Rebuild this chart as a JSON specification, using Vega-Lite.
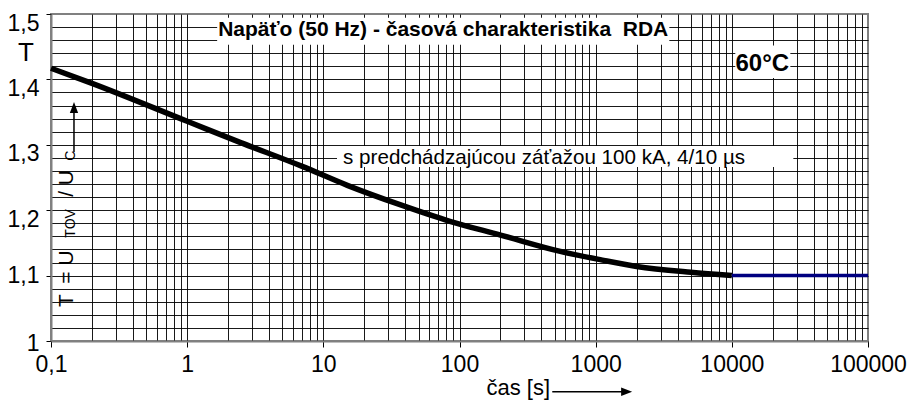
{
  "$schema": "https://vega.github.io/schema/vega-lite/v6.json",
  "width": 817,
  "height": 327,
  "autosize": "none",
  "padding": {"left": 51, "top": 14, "right": 46, "bottom": 60},
  "background": "white",
  "config": {
    "font": "Liberation Sans",
    "view": {"stroke": "#808080", "strokeWidth": 2}
  },
  "datasets": {
    "curve": [
      {"t": 0.1, "T": 1.417},
      {"t": 0.2, "T": 1.394},
      {"t": 1, "T": 1.336},
      {"t": 2.5, "T": 1.303},
      {"t": 7, "T": 1.267},
      {"t": 15, "T": 1.238},
      {"t": 37, "T": 1.208},
      {"t": 85, "T": 1.183},
      {"t": 200, "T": 1.162},
      {"t": 550, "T": 1.137},
      {"t": 1100, "T": 1.124},
      {"t": 2000, "T": 1.114},
      {"t": 5000, "T": 1.105},
      {"t": 10000, "T": 1.1}
    ],
    "flat": [
      {"t": 10000, "T": 1.1},
      {"t": 100000, "T": 1.1}
    ],
    "boxes": [
      {"x1": 1.66, "x2": 3475, "y1": 1.4943, "y2": 1.453},
      {"x1": 10600, "x2": 26900, "y1": 1.452, "y2": 1.402},
      {"x1": 12.6, "x2": 28300, "y1": 1.298, "y2": 1.266}
    ]
  },
  "layer": [
    {
      "data": {"name": "boxes"},
      "mark": {"type": "rect", "fill": "white", "stroke": null},
      "encoding": {
        "x": {
          "field": "x1", "type": "quantitative",
          "scale": {"type": "log", "domain": [0.1, 100000], "nice": false},
          "axis": {
            "values": [0.1,0.2,0.3,0.4,0.5,0.6,0.7,0.8,0.9,1,2,3,4,5,6,7,8,9,10,20,30,40,50,60,70,80,90,100,200,300,400,500,600,700,800,900,1000,2000,3000,4000,5000,6000,7000,8000,9000,10000,20000,30000,40000,50000,60000,70000,80000,90000,100000],
            "tickCount": 200,
            "grid": true,
            "gridColor": "#000000",
            "gridWidth": 1,
            "gridOpacity": {"condition": {"test": "datum.value > 99999", "value": 0}, "value": 0.9},
            "labelExpr": "abs(log(datum.value)/LN10 - round(log(datum.value)/LN10)) < 0.000001 ? (datum.value < 1 ? '0,1' : format(datum.value, 'd')) : ''",
            "labelOverlap": false,
            "labelFlush": false,
            "labelBound": false,
            "labelFontSize": 23,
            "labelColor": "#000000",
            "labelPadding": 6,
            "tickColor": "#000000",
            "tickSize": 6,
            "tickOpacity": {"condition": {"test": "abs(log(datum.value)/LN10 - round(log(datum.value)/LN10)) < 0.000001", "value": 1}, "value": 0},
            "domainColor": "#808080",
            "domainWidth": 2,
            "title": "čas [s]",
            "titleFontSize": 22,
            "titleFontWeight": "normal",
            "titleColor": "#000000",
            "titleX": 435,
            "titleY": 53,
            "titleAlign": "left",
            "titleBaseline": "alphabetic"
          }
        },
        "x2": {"field": "x2"},
        "y": {
          "field": "y1", "type": "quantitative",
          "scale": {"domain": [1, 1.5], "nice": false, "zero": false},
          "axis": {
            "values": [1,1.02,1.04,1.06,1.08,1.1,1.12,1.14,1.16,1.18,1.2,1.22,1.24,1.26,1.28,1.3,1.32,1.34,1.36,1.38,1.4,1.42,1.44,1.46,1.48,1.5],
            "tickCount": 200,
            "grid": true,
            "gridColor": "#000000",
            "gridWidth": 1,
            "gridOpacity": {"condition": {"test": "datum.value > 1.49", "value": 0}, "value": 0.9},
            "labelExpr": "abs(datum.value*10 - round(datum.value*10)) < 0.000001 ? replace(format(datum.value, '.1~f'), '.', ',') : ''",
            "labelOverlap": false,
            "labelFlush": false,
            "labelBound": false,
            "labelFontSize": 23,
            "labelColor": "#000000",
            "labelPadding": 7,
            "labelOffset": {"condition": [{"test": "abs(datum.value - 1.1) < 0.001", "value": 0}, {"test": "abs(datum.value - 1) < 0.001", "value": 2}], "value": 9},
            "tickColor": "#000000",
            "tickSize": 5,
            "tickOpacity": {"condition": {"test": "abs(datum.value*10 - round(datum.value*10)) < 0.000001", "value": 1}, "value": 0},
            "domainColor": "#808080",
            "domainWidth": 2,
            "title": "T",
            "titleAngle": 0,
            "titleFontSize": 26,
            "titleFontWeight": "normal",
            "titleColor": "#000000",
            "titleX": -25.5,
            "titleY": 46.5,
            "titleAlign": "center",
            "titleBaseline": "alphabetic"
          }
        },
        "y2": {"field": "y2"}
      }
    },
    {
      "data": {"name": "curve"},
      "mark": {"type": "line", "color": "#000000", "strokeWidth": 5.5, "interpolate": "monotone"},
      "encoding": {
        "x": {"field": "t", "type": "quantitative"},
        "y": {"field": "T", "type": "quantitative"}
      }
    },
    {
      "data": {"name": "flat"},
      "mark": {"type": "line", "color": "#000080", "strokeWidth": 3.5},
      "encoding": {
        "x": {"field": "t", "type": "quantitative"},
        "y": {"field": "T", "type": "quantitative"}
      }
    },
    {
      "data": {"values": [{"x": 75.9, "y": 1.4657, "label": "Napäťo (50 Hz) - časová charakteristika \u00a0RDA"}]},
      "mark": {"type": "text", "align": "center", "baseline": "alphabetic", "fontSize": 21, "fontWeight": "bold", "color": "#000000"},
      "encoding": {"x": {"field": "x", "type": "quantitative"}, "y": {"field": "y", "type": "quantitative"}, "text": {"field": "label"}}
    },
    {
      "data": {"values": [{"x": 16750, "y": 1.4122, "label": "60°C"}]},
      "mark": {"type": "text", "align": "center", "baseline": "alphabetic", "fontSize": 24, "fontWeight": "bold", "color": "#000000"},
      "encoding": {"x": {"field": "x", "type": "quantitative"}, "y": {"field": "y", "type": "quantitative"}, "text": {"field": "label"}}
    },
    {
      "data": {"values": [{"x": 13.97, "y": 1.2709, "label": "s predchádzajúcou záťažou 100 kA, 4/10 µs"}]},
      "mark": {"type": "text", "align": "left", "baseline": "alphabetic", "fontSize": 20.6, "color": "#000000"},
      "encoding": {"x": {"field": "x", "type": "quantitative"}, "y": {"field": "y", "type": "quantitative"}, "text": {"field": "label"}}
    },
    {
      "data": {"values": [{"x": 0.146, "y": 1.052, "label": "T\u2002= U"}, {"x": 0.146, "y": 1.2204, "label": "/ U"}]},
      "mark": {"type": "text", "align": "left", "baseline": "alphabetic", "angle": 270, "fontSize": 21, "color": "#000000"},
      "encoding": {"x": {"field": "x", "type": "quantitative"}, "y": {"field": "y", "type": "quantitative"}, "text": {"field": "label"}}
    },
    {
      "data": {"values": [{"x": 0.151, "y": 1.158, "label": "TOV"}, {"x": 0.151, "y": 1.2755, "label": "C"}]},
      "mark": {"type": "text", "align": "left", "baseline": "alphabetic", "angle": 270, "fontSize": 14, "color": "#000000"},
      "encoding": {"x": {"field": "x", "type": "quantitative"}, "y": {"field": "y", "type": "quantitative"}, "text": {"field": "label"}}
    },
    {
      "data": {"values": [{"x": 0.1475, "y": 1.289, "y2": 1.35}]},
      "mark": {"type": "rule", "color": "#000000", "strokeWidth": 1.5},
      "encoding": {"x": {"field": "x", "type": "quantitative"}, "y": {"field": "y", "type": "quantitative"}, "y2": {"field": "y2"}}
    },
    {
      "data": {"values": [{"x": 0.1475, "y": 1.355}]},
      "mark": {"type": "point", "shape": "M0,-1L0.6,0.6L-0.6,0.6Z", "size": 190, "filled": true, "color": "#000000", "opacity": 1},
      "encoding": {"x": {"field": "x", "type": "quantitative"}, "y": {"field": "y", "type": "quantitative"}}
    },
    {
      "data": {"values": [{"x": 480, "x2": 1600, "y": 0.9224}]},
      "mark": {"type": "rule", "color": "#000000", "strokeWidth": 1.5},
      "encoding": {"x": {"field": "x", "type": "quantitative"}, "x2": {"field": "x2"}, "y": {"field": "y", "type": "quantitative"}}
    },
    {
      "data": {"values": [{"x": 1650, "y": 0.9224}]},
      "mark": {"type": "point", "shape": "M1,0L-0.6,0.6L-0.6,-0.6Z", "size": 190, "filled": true, "color": "#000000", "opacity": 1},
      "encoding": {"x": {"field": "x", "type": "quantitative"}, "y": {"field": "y", "type": "quantitative"}}
    }
  ]
}
